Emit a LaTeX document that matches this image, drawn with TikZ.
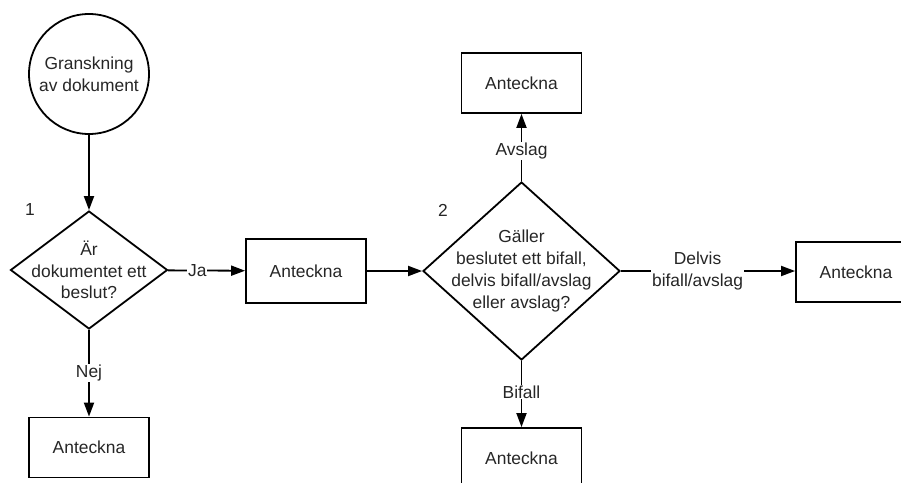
\documentclass[tikz,border=0pt]{standalone}
\usepackage{fontspec}
\setmainfont{Liberation Sans}
\usetikzlibrary{shapes.geometric,arrows.meta}

\tikzset{
  box/.style={draw, line width=1.8pt, minimum width=120pt, minimum height=60pt},
  dia/.style={draw, diamond, line width=1.8pt, inner sep=0pt},
  arr/.style={line width=1.8pt, -{Triangle[length=14pt,width=10pt]}},
  lbl/.style={fill=white, inner sep=1pt, align=center},
}

\begin{document}
\begin{tikzpicture}[x=1pt, y=-1pt, font=\fontsize{17.4}{21.7}\selectfont, text=black!85]
  \path[clip, use as bounding box] (0,0) rectangle (901,482);

  %% start
  \node[draw, circle, line width=1.8pt, minimum size=120pt, align=center] (start) at (89,74) {Granskning\\av dokument};

  %% question 1
  \node[dia, minimum width=157pt, minimum height=118pt,
        label={[align=center]center:Är\\dokumentet ett\\beslut?}] (q1) at (89,270) {};
  \node (nr1) at (30,210) {1};
  \node[box, minimum height=64pt] (ja) at (306,271) {Anteckna};
  \node[box] (nej) at (89,447.5) {Anteckna};

  %% question 2
  \node[dia, minimum width=197pt, minimum height=178pt,
        label={[align=center]center:Gäller\\beslutet ett bifall,\\delvis bifall/avslag\\eller avslag?}] (q2) at (521.5,271) {};
  \node (nr2) at (443,210) {2};
  \node[box] (avslag) at (521.5,83) {Anteckna};
  \node[box] (bifall) at (521.5,458) {Anteckna};
  \node[box] (delvis) at (856,272) {Anteckna};

  %% arrows
  \draw[arr] (start) -- (q1);
  \draw[arr] (q1) -- node[lbl, pos=0.38] {Ja} (ja);
  \draw[arr] (q1) -- node[lbl] {Nej} (nej);
  \draw[arr] (ja) -- (q2);
  \draw[arr] (q2) -- node[lbl, pos=0.45] {Avslag} (avslag);
  \draw[arr] (q2) -- node[lbl, pos=0.47] {Bifall} (bifall);
  \draw[arr] (q2.east) -- node[lbl, pos=0.44] {Delvis\\bifall/avslag} (delvis.west |- q2.east);

\end{tikzpicture}
\end{document}
